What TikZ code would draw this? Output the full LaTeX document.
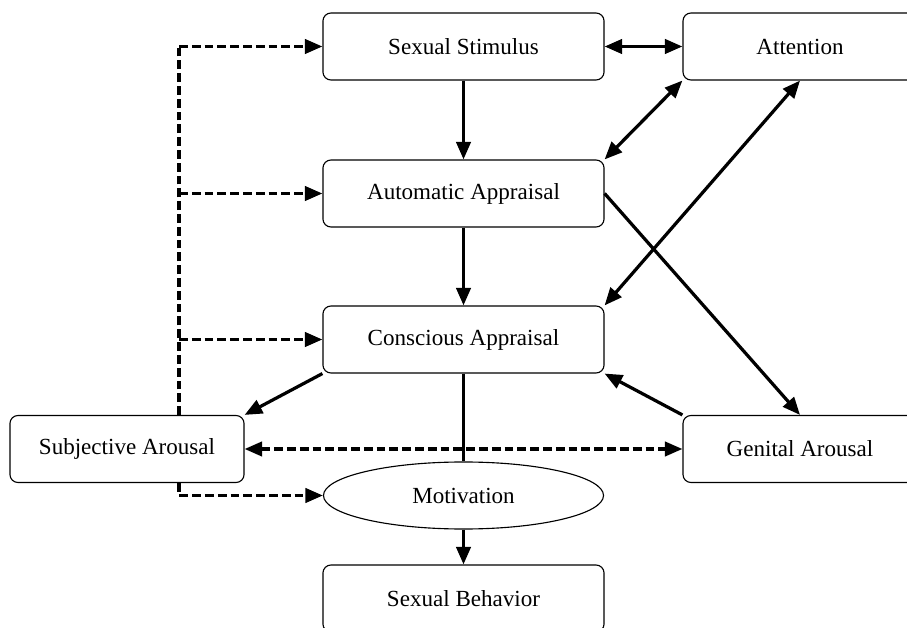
\documentclass[tikz,border=0pt]{standalone}
\usepackage{fontspec}
\setmainfont{Liberation Serif}
\usetikzlibrary{arrows.meta,shapes.geometric}

\begin{document}
\begin{tikzpicture}[x=0.025cm,y=-0.025cm,
  font=\fontsize{16.4}{20}\selectfont,
  >={Triangle[length=0.44cm,width=0.36cm]},
  box/.style={draw,rounded corners=0.2cm,line width=0.8pt,minimum width=7.025cm,minimum height=1.675cm,inner sep=0pt},
  sidebox/.style={box,minimum width=5.85cm},
  oval/.style={draw,ellipse,line width=0.8pt,minimum width=7cm,minimum height=1.675cm,inner sep=0pt},
  link/.style={line width=2.3pt,->},
  twolink/.style={line width=2.3pt,<->},
  dashlink/.style={line width=2.3pt,dash pattern=on 0.22cm off 0.1cm}]
  \useasboundingbox (0,0) rectangle (907,628);
  \clip (0,0) rectangle (907,628);
  \node[box] (stim) at (463.5,46.5) {Sexual Stimulus};
  \node[sidebox] (att) at (800,46.5) {Attention};
  \node[box] (auto) at (463.5,193.5) {Automatic Appraisal};
  \node[box] (cons) at (463.5,339.5) {Conscious Appraisal};
  \node[sidebox] (subj) at (127,449) {Subjective Arousal};
  \node[sidebox] (gen) at (800,449) {Genital Arousal};
  \node[oval] (mot) at (463.5,495.5) {Motivation};
  \node[box] (beh) at (463.5,598.5) {Sexual Behavior};
  \coordinate (fork) at (179,46.5);
  \draw[twolink] (stim) -- (att);
  \draw[link] (stim) -- (auto);
  \draw[link] (auto) -- (cons);
  \draw[twolink] (auto.north east) -- (att.south west);
  \draw[twolink] (cons.north east) -- (att.south);
  \draw[link] (auto.east) -- (gen.north);
  \draw[link] (gen.north west) -- (cons.south east);
  \draw[link] (cons.south west) -- (subj.north east);
  \draw[line width=2.3pt] (cons) -- (mot);
  \draw[link] (mot) -- (beh);
  \draw[dashlink] (subj.north -| fork) -- (fork);
  \draw[dashlink,->] (fork) -- (stim);
  \draw[dashlink,->] (fork |- auto) -- (auto);
  \draw[dashlink,->] (fork |- cons) -- (cons);
  \draw[dashlink,->] (subj.south -| fork) |- (mot);
  \draw[dashlink,<->] (subj) -- (gen);
\end{tikzpicture}
\end{document}
